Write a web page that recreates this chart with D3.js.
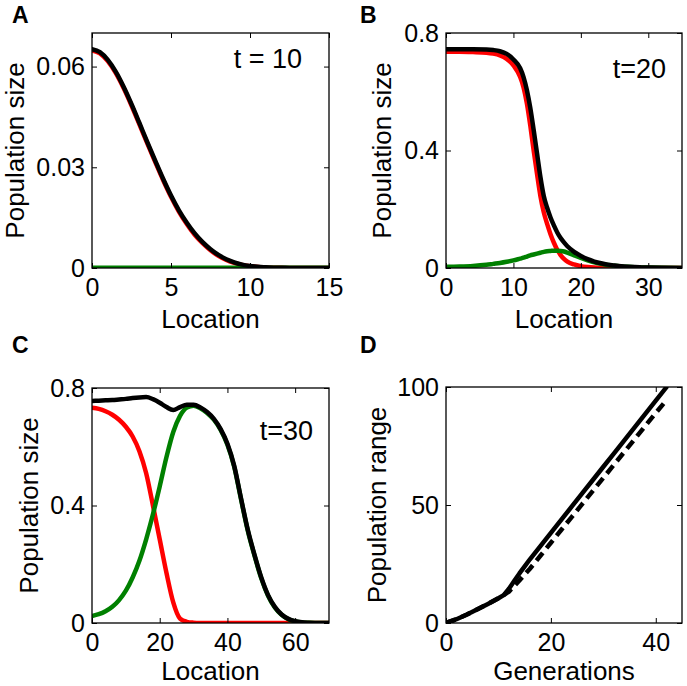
<!DOCTYPE html>
<html>
<head>
<meta charset="utf-8">
<script src="https://cdn.jsdelivr.net/npm/d3@7"></script>
<style>
  html, body { margin: 0; padding: 0; background: #fff; }
  svg { display: block; font-family: "Liberation Sans", Arial, Helvetica, sans-serif; }
</style>
</head>
<body>
<svg id="chart" width="687" height="686"></svg>
<script>
// ---------------- DATA ----------------
// Panel A (t = 10)
const aLocation = [0,0.5,1,1.5,2,2.5,3,3.5,4,4.5,5,5.5,6,6.5,7,7.5,8,8.5,9,9.5,10,10.5,11,11.5,12,12.5,13,13.5,14,14.5,15];
const aBlack = [0.0652,0.0643,0.0620,0.0585,0.0540,0.0488,0.0432,0.0375,0.0320,0.0266,0.0216,0.0172,0.0135,0.0103,0.0077,0.0056,0.0039,0.0026,0.0017,0.0010,0.0006,0.0004,0.0002,0.0001,0.00006,0.00003,0.00002,0.00001,0.00001,0,0];
const aRed   = [0.0648,0.0639,0.0616,0.0581,0.0536,0.0484,0.0428,0.0371,0.0316,0.0262,0.0212,0.0168,0.0131,0.0099,0.0074,0.0053,0.0036,0.0024,0.0015,0.0009,0.0005,0.0003,0.0001,0.0001,0.00005,0.00002,0.00001,0,0,0,0];
const aGreen = [0.0001,0.0001,0.0001,0.0001,0.0001,0.0001,0.0001,0.0001,0.0001,0.0001,0.0001,0.0001,0.0001,0.0001,0.0001,0.0001,0.0001,0.0001,0.0001,0.0001,0.0001,0.0001,0.0001,0.0001,0.0001,0.0001,0.0001,0.0001,0.0001,0.0001,0.0001];
const aXTicks = [0,5,10,15];
const aYTicks = [0,0.03,0.06];
const aYTickLabels = ["0","0.03","0.06"];

// Panel B (t = 20)
const bLocation = [0,2,4,6,7,8,9,10,11,11.5,12,12.5,13,13.5,14,14.5,15,15.5,16,16.5,17,17.5,18,19,20,21,22,23,24,25,26,27,28,29,30,32,35];
const bBlack = [0.745,0.745,0.745,0.744,0.742,0.738,0.729,0.710,0.680,0.650,0.605,0.545,0.470,0.390,0.310,0.245,0.205,0.172,0.145,0.121,0.102,0.087,0.074,0.055,0.041,0.030,0.022,0.016,0.0115,0.0085,0.006,0.0043,0.003,0.0021,0.0015,0.0007,0.0002];
const bRed   = [0.736,0.736,0.735,0.733,0.730,0.724,0.712,0.690,0.650,0.615,0.560,0.485,0.400,0.320,0.245,0.190,0.150,0.115,0.086,0.062,0.044,0.031,0.022,0.012,0.0065,0.0035,0.0019,0.001,0.0006,0.0003,0.0002,0.0001,0.00005,0,0,0,0];
const bGreen = [0.004,0.005,0.007,0.011,0.014,0.017,0.021,0.026,0.032,0.035,0.039,0.043,0.046,0.049,0.052,0.055,0.057,0.058,0.059,0.059,0.058,0.056,0.052,0.043,0.034,0.026,0.019,0.014,0.010,0.0075,0.0055,0.004,0.0028,0.002,0.0014,0.0006,0.0002];
const bXTicks = [0,10,20,30];
const bYTicks = [0,0.4,0.8];
const bYTickLabels = ["0","0.4","0.8"];

// Panel C (t = 30)
const cLocation = [0,2,4,6,8,10,12,14,16,18,20,22,24,26,28,30,32,34,36,38,40,42,44,46,48,50,52,54,56,58,60,62,64,66,68,70];
const cBlack = [0.756,0.757,0.758,0.759,0.761,0.763,0.766,0.768,0.769,0.762,0.750,0.735,0.725,0.735,0.743,0.743,0.734,0.718,0.695,0.660,0.610,0.535,0.425,0.318,0.232,0.155,0.095,0.055,0.029,0.014,0.006,0.0022,0.0008,0.0003,0.0001,0.00005];
const cRed   = [0.733,0.729,0.721,0.709,0.692,0.668,0.635,0.585,0.510,0.400,0.285,0.170,0.070,0.015,0.004,0.0012,0.0003,0.0001,0,0,0,0,0,0,0,0,0,0,0,0,0,0,0,0,0,0];
const cGreen = [0.024,0.030,0.040,0.055,0.078,0.110,0.155,0.212,0.285,0.370,0.465,0.565,0.650,0.705,0.733,0.740,0.731,0.715,0.692,0.657,0.607,0.532,0.422,0.315,0.229,0.152,0.093,0.053,0.028,0.013,0.0055,0.002,0.0007,0.0002,0.0001,0];
const cXTicks = [0,20,40,60];
const cYTicks = [0,0.4,0.8];
const cYTickLabels = ["0","0.4","0.8"];

// Panel D (population range)
const dGenerations = [0,2,4,6,8,10,11,12,13,14,15,16,18,20,22,24,26,28,30,32,34,36,38,40,42];
const dSolid = [0,1.6,3.6,5.8,8.1,10.5,11.8,14.5,17.8,21,24,27,32.6,38.2,43.8,49.4,55,60.6,66.2,71.8,77.4,83,88.6,94.2,99.8];
const dDashedGenerations = [0,2,4,6,8,10,11,12,14,16,18,20,22,24,26,28,30,32,34,36,38,40,41.5];
const dDashed = [0,1.6,3.6,5.8,8.1,10.5,11.8,13.3,18,23,28.5,34,39.5,45,50.5,56,61.5,67,72.5,78,83.5,89,93];
const dXTicks = [0,20,40];
const dYTicks = [0,50,100];
const dYTickLabels = ["0","50","100"];

// ---------------- DRAWING ----------------
const svg = d3.select("#chart");
const COLORS = { red: "#ff0000", green: "#008000", black: "#000000" };

function panel(cfg) {
  const x = d3.scaleLinear().domain(cfg.xDomain).range([cfg.left, cfg.right]);
  const y = d3.scaleLinear().domain(cfg.yDomain).range([cfg.bottom, cfg.top]);
  const g = svg.append("g");
  const clipId = "clip-" + cfg.id;
  svg.append("clipPath").attr("id", clipId)
    .append("rect").attr("x", cfg.left).attr("y", cfg.top)
    .attr("width", cfg.right - cfg.left).attr("height", cfg.bottom - cfg.top);

  const lines = g.append("g").attr("clip-path", `url(#${clipId})`);
  cfg.series.forEach(s => {
    const pts = s.xs.map((v, i) => [v, s.ys[i]]);
    const line = d3.line().x(d => x(d[0])).y(d => y(d[1])).curve(s.curve || d3.curveMonotoneX);
    lines.append("path").datum(pts)
      .attr("d", line)
      .attr("fill", "none")
      .attr("stroke", s.color)
      .attr("stroke-width", s.width || 4.5)
      .attr("stroke-dasharray", s.dash || null)
      .attr("stroke-linejoin", "round")
      .attr("stroke-linecap", s.dash ? "butt" : "round");
  });

  const fs = "25px";
  g.append("g").attr("transform", `translate(0,${cfg.bottom})`)
    .call(d3.axisBottom(x).tickValues(cfg.xTicks).tickFormat(d3.format("d")).tickSize(-5).tickPadding(10));
  g.append("g").attr("transform", `translate(0,${cfg.top})`)
    .call(d3.axisTop(x).tickValues(cfg.xTicks).tickFormat("").tickSize(-5));
  g.append("g").attr("transform", `translate(${cfg.left},0)`)
    .call(d3.axisLeft(y).tickValues(cfg.yTicks).tickFormat((d, i) => cfg.yTickLabels[i]).tickSize(-5).tickPadding(7));
  g.append("g").attr("transform", `translate(${cfg.right},0)`)
    .call(d3.axisRight(y).tickValues(cfg.yTicks).tickFormat("").tickSize(-5));

  g.selectAll(".domain").remove();
  g.selectAll(".tick line").attr("stroke", "#000").attr("stroke-width", 1);
  g.selectAll(".tick text").attr("font-size", fs).attr("fill", "#000")
    .attr("font-family", "'Liberation Sans', Arial, sans-serif");

  g.append("rect").attr("x", cfg.left).attr("y", cfg.top)
    .attr("width", cfg.right - cfg.left).attr("height", cfg.bottom - cfg.top)
    .attr("fill", "none").attr("stroke", "#000").attr("stroke-width", 1.3);

  g.append("text").attr("x", (cfg.left + cfg.right) / 2).attr("y", cfg.xLabelY)
    .attr("text-anchor", "middle").attr("font-size", "26px").text(cfg.xLabel);
  g.append("text")
    .attr("transform", `translate(${cfg.yLabelX},${(cfg.top + cfg.bottom) / 2}) rotate(-90)`)
    .attr("text-anchor", "middle").attr("font-size", "26px").text(cfg.yLabel);

  g.append("text").attr("x", cfg.letterX).attr("y", cfg.letterY)
    .attr("font-size", "23px").attr("font-weight", "bold").text(cfg.letter);

  if (cfg.note) {
    g.append("text").attr("x", cfg.noteX).attr("y", cfg.noteY)
      .attr("text-anchor", "end").attr("font-size", "27px").text(cfg.note);
  }
}

panel({
  id: "A", letter: "A", letterX: 12, letterY: 23,
  left: 92, right: 329, top: 33, bottom: 268,
  xDomain: [0, 15], yDomain: [0, 0.07],
  xTicks: aXTicks, yTicks: aYTicks, yTickLabels: aYTickLabels,
  xLabel: "Location", xLabelY: 328, yLabel: "Population size", yLabelX: 24,
  note: "t = 10", noteX: 302, noteY: 68,
  series: [
    { xs: aLocation, ys: aRed, color: COLORS.red },
    { xs: aLocation, ys: aGreen, color: COLORS.green },
    { xs: aLocation, ys: aBlack, color: COLORS.black }
  ]
});

panel({
  id: "B", letter: "B", letterX: 360, letterY: 23,
  left: 446, right: 682, top: 33, bottom: 268,
  xDomain: [0, 35], yDomain: [0, 0.8],
  xTicks: bXTicks, yTicks: bYTicks, yTickLabels: bYTickLabels,
  xLabel: "Location", xLabelY: 328, yLabel: "Population size", yLabelX: 391,
  note: "t=20", noteX: 666, noteY: 78,
  series: [
    { xs: bLocation, ys: bRed, color: COLORS.red },
    { xs: bLocation, ys: bGreen, color: COLORS.green },
    { xs: bLocation, ys: bBlack, color: COLORS.black }
  ]
});

panel({
  id: "C", letter: "C", letterX: 12, letterY: 353,
  left: 92, right: 329, top: 388, bottom: 623,
  xDomain: [0, 70], yDomain: [0, 0.8],
  xTicks: cXTicks, yTicks: cYTicks, yTickLabels: cYTickLabels,
  xLabel: "Location", xLabelY: 680, yLabel: "Population size", yLabelX: 38,
  note: "t=30", noteX: 313, noteY: 440,
  series: [
    { xs: cLocation, ys: cRed, color: COLORS.red },
    { xs: cLocation, ys: cGreen, color: COLORS.green },
    { xs: cLocation, ys: cBlack, color: COLORS.black }
  ]
});

panel({
  id: "D", letter: "D", letterX: 360, letterY: 353,
  left: 446, right: 682, top: 387, bottom: 623,
  xDomain: [0, 45], yDomain: [0, 100],
  xTicks: dXTicks, yTicks: dYTicks, yTickLabels: dYTickLabels,
  xLabel: "Generations", xLabelY: 680, yLabel: "Population range", yLabelX: 386,
  series: [
    { xs: dDashedGenerations, ys: dDashed, color: COLORS.black, dash: "10,6", curve: d3.curveLinear },
    { xs: dGenerations, ys: dSolid, color: COLORS.black, curve: d3.curveLinear }
  ]
});
</script>
</body>
</html>
